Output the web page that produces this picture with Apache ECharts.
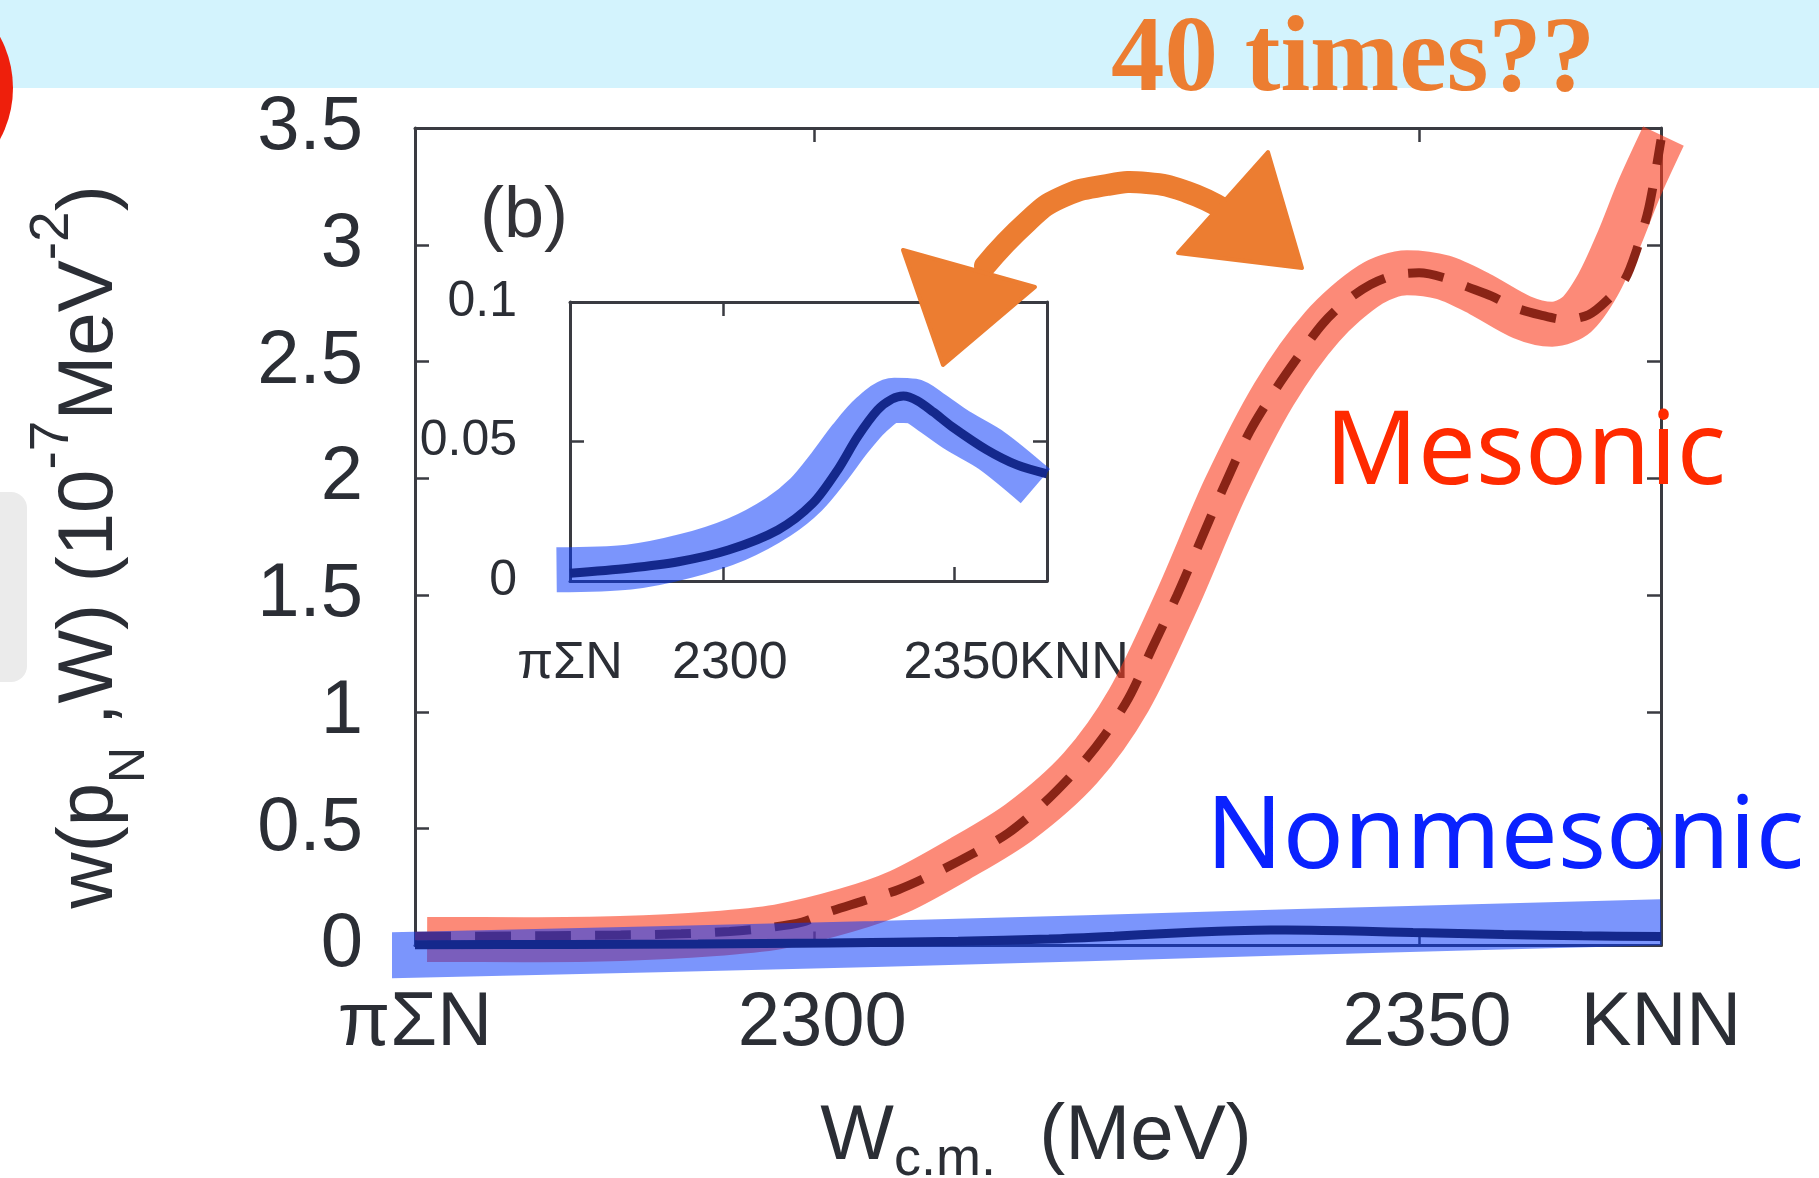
<!DOCTYPE html>
<html>
<head>
<meta charset="utf-8">
<script src="https://cdn.jsdelivr.net/npm/echarts@6/dist/echarts.min.js"></script>
<style>
html,body{margin:0;padding:0;background:#fff;}
#chart{width:1819px;height:1178px;}
</style>
</head>
<body>
<div id="chart"></div>
<script>
// ---------- data ----------
const W_MIN = 2267;   // πΣN threshold (MeV)
const W_MAX = 2370;   // KNN threshold (MeV)
const xLabelValues = [2267, 2300, 2350, 2370];
const xLabelTexts  = ['πΣN', '2300', '2350', 'KNN'];
const xTickValues  = [2300, 2350];
const mainYMax = 3.5, mainYStep = 0.5;
const insetYMax = 0.1, insetYStep = 0.05;

// Mesonic (dashed curve)
const mesonicW   = [2267, 2272, 2278, 2284, 2289, 2293, 2296, 2299, 2301, 2304, 2307, 2310, 2313, 2316, 2319, 2322, 2324, 2326, 2328, 2330, 2332, 2334, 2336, 2338, 2340, 2342, 2344, 2346, 2348, 2350, 2352, 2354, 2356, 2358, 2360, 2362, 2364, 2365.5, 2367, 2368, 2369, 2370];
const mesonicVal = [0.04, 0.04, 0.042, 0.045, 0.05, 0.06, 0.075, 0.1, 0.14, 0.19, 0.24, 0.31, 0.39, 0.48, 0.61, 0.77, 0.9, 1.06, 1.28, 1.5, 1.74, 1.98, 2.2, 2.37, 2.52, 2.66, 2.76, 2.83, 2.87, 2.88, 2.86, 2.82, 2.78, 2.73, 2.7, 2.68, 2.7, 2.76, 2.85, 2.98, 3.16, 3.45];
// Mesonic highlight band (centre line)
const mesonicBandW   = [2268, 2276, 2284, 2291.5, 2297, 2302.6, 2307, 2312, 2317, 2322, 2326, 2330, 2334, 2338, 2342, 2346, 2349, 2352, 2355, 2358.5, 2361, 2363, 2364.8, 2366.5, 2368.2, 2370.2];
const mesonicBandVal = [0.026, 0.025, 0.03, 0.05, 0.08, 0.15, 0.23, 0.37, 0.53, 0.76, 1.05, 1.48, 1.96, 2.36, 2.65, 2.83, 2.88, 2.86, 2.79, 2.69, 2.66, 2.7, 2.83, 3.02, 3.24, 3.465];
// Nonmesonic (solid curve, same in main plot and inset)
const nonmesonicW   = [2267, 2279.7, 2290.4, 2301.2, 2311.9, 2319.4, 2324.8, 2329.1, 2333.4, 2336.5, 2339, 2342, 2345.5, 2349.5, 2357, 2363.5, 2370];
const nonmesonicVal = [0.0028, 0.0046, 0.0069, 0.0111, 0.0183, 0.0278, 0.0398, 0.0517, 0.0613, 0.0652, 0.0663, 0.0646, 0.0605, 0.0553, 0.047, 0.0416, 0.0384];
// Nonmesonic highlight band in the main plot
const nonmesonicBandW   = [2263.6, 2305, 2340, 2370];
const nonmesonicBandVal = [-0.043, 0.006, 0.058, 0.1];
// Nonmesonic highlight band in the inset
const insetBandW   = [2264.1, 2279.7, 2292, 2303, 2312, 2318, 2323, 2327.5, 2332, 2337, 2341, 2345, 2350.6, 2358.1, 2367.5];
const insetBandVal = [0.004, 0.005, 0.009, 0.015, 0.023, 0.031, 0.041, 0.051, 0.0595, 0.0648, 0.0645, 0.0605, 0.054, 0.0467, 0.034];

// ---------- helpers ----------
const zip = (xs, ys) => xs.map((x, i) => [x, ys[i]]);
const frameColor = '#3a3b41';
const labelColor = '#2b2e35';
const SANS = 'Liberation Sans';

function makeFmt(v) {
  const i = xLabelValues.indexOf(v);
  if (i < 0) return '';
  if (i === 0) return xLabelTexts[i];
  if (i === xLabelValues.length - 1) return '{k|' + xLabelTexts[i] + '}';
  return '{n|' + xLabelTexts[i] + '}';
}
function xAx(grid, pos, label, fs, margin, shiftNum, shiftLast) {
  return {
    type: 'value', gridIndex: grid, position: pos, min: W_MIN, max: W_MAX,
    axisLine: {show: true, onZero: false, lineStyle: {color: frameColor, width: 3}},
    axisTick: {show: true, inside: true, length: 14, customValues: xTickValues, lineStyle: {color: frameColor, width: 2.5}},
    axisLabel: label ? {
      show: true, customValues: xLabelValues, formatter: makeFmt,
      fontSize: fs, fontFamily: SANS, color: labelColor, margin: margin,
      hideOverlap: false, showMinLabel: true, showMaxLabel: true,
      rich: {
        n: {fontSize: fs, fontFamily: SANS, color: labelColor, padding: [0, 0, 0, shiftNum]},
        k: {fontSize: fs, fontFamily: SANS, color: labelColor, padding: [0, 0, 0, shiftLast]}
      }
    } : {show: false},
    splitLine: {show: false}
  };
}
function yAx(grid, pos, label, max, step, fs, margin) {
  return {
    type: 'value', gridIndex: grid, position: pos, min: 0, max: max, interval: step,
    axisLine: {show: true, onZero: false, lineStyle: {color: frameColor, width: 3}},
    axisTick: {show: true, inside: true, length: 14, lineStyle: {color: frameColor, width: 2.5}},
    axisLabel: label ? {show: true, fontSize: fs, fontFamily: SANS, color: labelColor, margin: margin, hideOverlap: false} : {show: false},
    splitLine: {show: false}
  };
}
function lineSeries(name, xi, yi, data, color, width, z, extra) {
  return Object.assign({
    name: name, type: 'line', xAxisIndex: xi, yAxisIndex: yi, data: data,
    showSymbol: false, symbol: 'none', smooth: 0.3, clip: false, z: z,
    lineStyle: {color: color, width: width, cap: 'butt'}, emphasis: {disabled: true}, silent: true, animation: false
  }, extra || {});
}

const chart = echarts.init(document.getElementById('chart'), null, {renderer: 'canvas'});
const option = {
  backgroundColor: '#ffffff',
  animation: false,
  grid: [
    {left: 415, top: 128, width: 1246, height: 817.5, containLabel: false, outerBoundsMode: 'none'},
    {left: 570, top: 302, width: 477, height: 279, containLabel: false, outerBoundsMode: 'none'}
  ],
  xAxis: [
    xAx(0, 'bottom', true, 76, 41, 16, 0),
    xAx(0, 'top', false),
    xAx(1, 'bottom', true, 52, 57, 14, 54),
    xAx(1, 'top', false)
  ],
  yAxis: [
    yAx(0, 'left', true, mainYMax, mainYStep, 76, 52),
    yAx(0, 'right', false, mainYMax, mainYStep),
    yAx(1, 'left', true, insetYMax, insetYStep, 50, 53),
    yAx(1, 'right', false, insetYMax, insetYStep)
  ],
  series: [
    lineSeries('Mesonic band', 0, 0, zip(mesonicBandW, mesonicBandVal), 'rgba(250,60,30,0.6)', 45, 2),
    lineSeries('Mesonic', 0, 0, zip(mesonicW, mesonicVal), '#8a2416', 9, 3, {lineStyle: {color: '#8a2416', width: 9, type: [36, 24]}}),
    lineSeries('Nonmesonic band', 0, 0, zip(nonmesonicBandW, nonmesonicBandVal), 'rgba(5,55,250,0.53)', 46, 4),
    lineSeries('Nonmesonic', 0, 0, zip(nonmesonicW, nonmesonicVal), '#14288c', 9, 5),
    lineSeries('Nonmesonic band (inset)', 2, 2, zip(insetBandW, insetBandVal), 'rgba(5,55,250,0.53)', 45, 4),
    lineSeries('Nonmesonic (inset)', 2, 2, zip(nonmesonicW, nonmesonicVal), '#14288c', 9, 5)
  ],
  graphic: [
    {type: 'rect', z: -10, silent: true, shape: {x: 0, y: 0, width: 1819, height: 88}, style: {fill: '#d3f3fd'}},
    {type: 'circle', z: -5, silent: true, shape: {cx: -95, cy: 88, r: 108}, style: {fill: '#ee1f0c'}},
    {type: 'rect', z: -5, silent: true, shape: {x: -20, y: 492, width: 47, height: 190, r: 16}, style: {fill: '#ebebeb'}},
    {type: 'text', z: 100, x: 1111, y: 62, style: {text: '40 times??', fill: '#ec7d31', fontFamily: 'Liberation Serif', fontWeight: 'bold', fontSize: 107, align: 'left', verticalAlign: 'middle'}},
    {type: 'text', z: 100, x: 524, y: 217, style: {text: '(b)', fill: '#333338', fontFamily: SANS, fontSize: 72, align: 'center', verticalAlign: 'middle'}},
    {type: 'text', z: 100, x: 1325, y: 455, style: {text: 'Mesonic', fill: '#ff2a00', fontFamily: 'Noto Sans', fontSize: 102.5, align: 'left', verticalAlign: 'middle'}},
    {type: 'text', z: 100, x: 1206, y: 839, style: {text: 'Nonmesonic', fill: '#0a22ff', fontFamily: 'Noto Sans', fontSize: 101, align: 'left', verticalAlign: 'middle'}},
    {type: 'text', z: 100, x: 90, y: 547, rotation: Math.PI / 2, style: {
      text: '{t|w(p}{sb|N}{t| ,W) (10}{sp|-7}{t|MeV}{sp|-2}{t|)}',
      align: 'center', verticalAlign: 'middle',
      rich: {
        t:  {fontSize: 78, fontFamily: SANS, fill: labelColor, lineHeight: 130, verticalAlign: 'middle'},
        sp: {fontSize: 55, fontFamily: SANS, fill: labelColor, lineHeight: 62, verticalAlign: 'top'},
        sb: {fontSize: 50, fontFamily: SANS, fill: labelColor, lineHeight: 64, verticalAlign: 'bottom'}
      }
    }},
    {type: 'text', z: 100, x: 1036, y: 1137, style: {
      text: '{t|W}{sb|c.m.}{t|  (MeV)}',
      align: 'center', verticalAlign: 'middle',
      rich: {
        t:  {fontSize: 78, fontFamily: SANS, fill: labelColor, lineHeight: 100, verticalAlign: 'middle'},
        sb: {fontSize: 54, fontFamily: SANS, fill: labelColor, lineHeight: 47, verticalAlign: 'bottom'}
      }
    }},
    // hand-drawn double arrow
    {type: 'polyline', z: 100, silent: true, shape: {points: [[985, 266], [1027, 222], [1060, 198], [1107, 185], [1147, 183], [1187, 192], [1225, 210]], smooth: 0.5},
      style: {stroke: '#ec7d31', lineWidth: 22, fill: null, lineCap: 'round'}},
    {type: 'polygon', z: 100, silent: true, shape: {points: [[903, 250], [1035, 287], [943, 365]]}, style: {fill: '#ec7d31', stroke: '#ec7d31', lineWidth: 4, lineJoin: 'round'}},
    {type: 'polygon', z: 100, silent: true, shape: {points: [[1268, 152], [1302, 268], [1178, 253]]}, style: {fill: '#ec7d31', stroke: '#ec7d31', lineWidth: 4, lineJoin: 'round'}}
  ]
};
chart.setOption(option);
</script>
</body>
</html>
